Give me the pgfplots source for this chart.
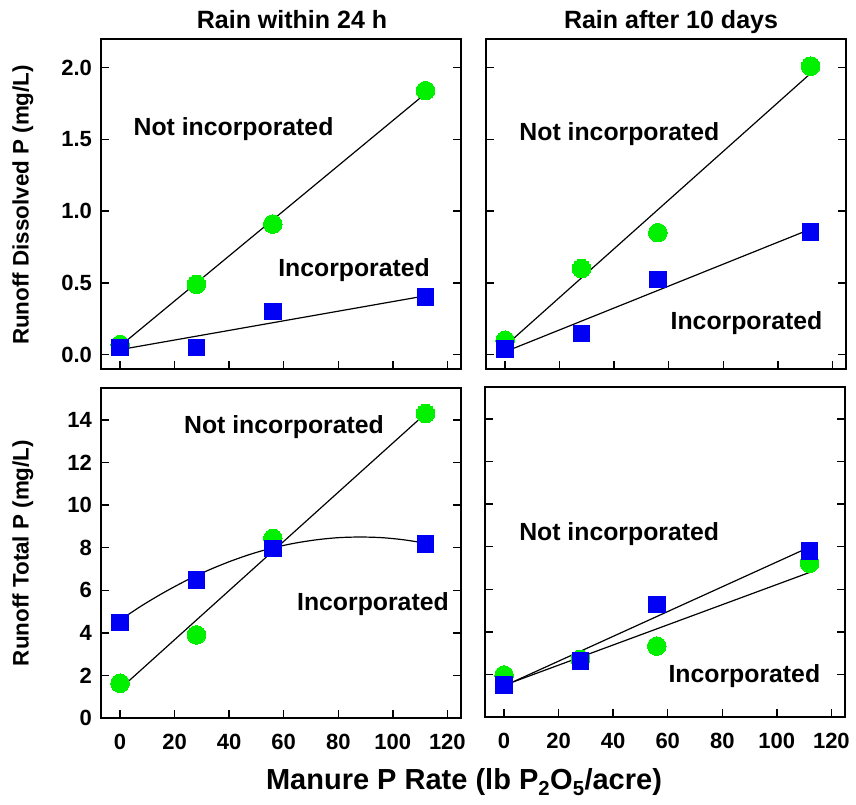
\documentclass[border=0pt]{standalone}
\usepackage{fontspec}
\setmainfont{Liberation Sans}
\usepackage{pgfplots}
\pgfplotsset{compat=1.18}
\definecolor{ptgreen}{RGB}{0,240,0}
\definecolor{ptblue}{RGB}{0,0,245}

\newcommand{\fs}[1]{\fontsize{#1}{#1}\selectfont\bfseries}

\tikzset{lab/.style={font=\fs{24.8}, anchor=base}}

\pgfplotsset{
  panel/.style={
    scale only axis, width=360pt, height=330pt, anchor=south west,
    xmin=-7, xmax=125, xtick={0,20,...,120},
    tick align=inside, xtick pos=left, ytick pos=both,
    major tick length=8pt,
    axis line style={line width=1.6pt},
    tick style={black, line width=1.4pt},
    /pgf/number format/assume math mode=true,
    ticklabel style={font=\fs{22}},
    xticklabel style={yshift=-12.5pt},
    yticklabel style={xshift=-5.5pt},
    clip=false,
  },
  dissolved/.style={ymin=-0.1, ymax=2.2, ytick={0,0.5,...,2},
    yticklabel style={/pgf/number format/fixed, /pgf/number format/fixed zerofill,
      /pgf/number format/precision=1}},
  total/.style={ymin=0, ymax=15.5, ytick={0,2,...,14}},
  fit/.style={black, line width=1.2pt, no marks},
  notinc/.style={only marks, color=ptgreen, mark=*, mark size=9.3pt,
    mark options={fill=ptgreen, draw=ptgreen, line width=0pt}},
  inc/.style={only marks, color=ptblue, mark=square*, mark size=8.3pt,
    mark options={fill=ptblue, draw=ptblue, line width=0pt}},
}

\begin{document}
\begin{tikzpicture}
\useasboundingbox (0,0) rectangle (856pt,805pt);

% top left: dissolved P, rain within 24 h
\begin{axis}[panel, dissolved, at={(101pt,436pt)}, xticklabels={}]
\addplot[fit] coordinates {(0,0.06) (112,1.82)};
\addplot[fit] coordinates {(0,0.035) (112,0.41)};
\addplot[notinc] coordinates {(0,0.07) (28,0.49) (56,0.91) (112,1.84)};
\addplot[inc] coordinates {(0,0.05) (28,0.05) (56,0.30) (112,0.40)};
\node[lab] at (axis cs:41.6,1.53) {Not incorporated};
\node[lab] at (axis cs:85.8,0.544) {Incorporated};
\end{axis}

% top right: dissolved P, rain after 10 days
\begin{axis}[panel, dissolved, at={(486pt,436pt)}, xticklabels={}, yticklabels={}]
\addplot[fit] coordinates {(0,0.06) (112,1.96)};
\addplot[fit] coordinates {(0,0.02) (112,0.875)};
\addplot[notinc] coordinates {(0,0.10) (28,0.60) (56,0.85) (112,2.01)};
\addplot[inc] coordinates {(0,0.04) (28,0.146) (56,0.525) (112,0.856)};
\node[lab] at (axis cs:41.9,1.49) {Not incorporated};
\node[lab] at (axis cs:88.5,0.177) {Incorporated};
\end{axis}

% bottom left: total P, rain within 24 h
\begin{axis}[panel, total, at={(101pt,87pt)}]
\addplot[fit] coordinates {(0,1.37) (112,14.3)};
\addplot[fit, smooth] coordinates {
  (0,4.60) (8,5.28) (16,5.89) (24,6.44) (32,6.92) (40,7.34) (48,7.70)
  (56,7.99) (64,8.21) (72,8.37) (80,8.47) (88,8.50) (96,8.47) (104,8.37) (112,8.21)};
\addplot[notinc] coordinates {(0,1.63) (28,3.90) (56,8.44) (112,14.3)};
\addplot[inc] coordinates {(0,4.49) (28,6.48) (56,7.97) (112,8.17)};
\node[lab] at (axis cs:60.1,13.37) {Not incorporated};
\node[lab] at (axis cs:92.7,5.04) {Incorporated};
\end{axis}

% bottom right: total P, rain after 10 days
\begin{axis}[panel, total, at={(485pt,88pt)}, yticklabels={}]
\addplot[fit] coordinates {(0,1.46) (112,7.98)};
\addplot[fit] coordinates {(0,1.49) (112,6.79)};
\addplot[notinc] coordinates {(0,1.97) (28,2.71) (56,3.33) (112,7.22)};
\addplot[inc] coordinates {(0,1.50) (28,2.63) (56,5.29) (112,7.80)};
\node[lab] at (axis cs:42.2,8.28) {Not incorporated};
\node[lab] at (axis cs:88.1,1.61) {Incorporated};
\end{axis}

% titles and axis labels
\node[font=\fs{25}, anchor=base] at (292pt,776pt) {Rain within 24 h};
\node[font=\fs{25}, anchor=base] at (671pt,776pt) {Rain after 10 days};
\node[font=\fs{22.4}, rotate=90] at (23pt,600pt) {Runoff Dissolved P (mg/L)};
\node[font=\fs{22.4}, rotate=90] at (23pt,252pt) {Runoff Total P (mg/L)};
\node[font=\fs{29}, anchor=base] at (464pt,15pt) {Manure P Rate (lb P\textsubscript{2}O\textsubscript{5}/acre)};
\end{tikzpicture}
\end{document}
